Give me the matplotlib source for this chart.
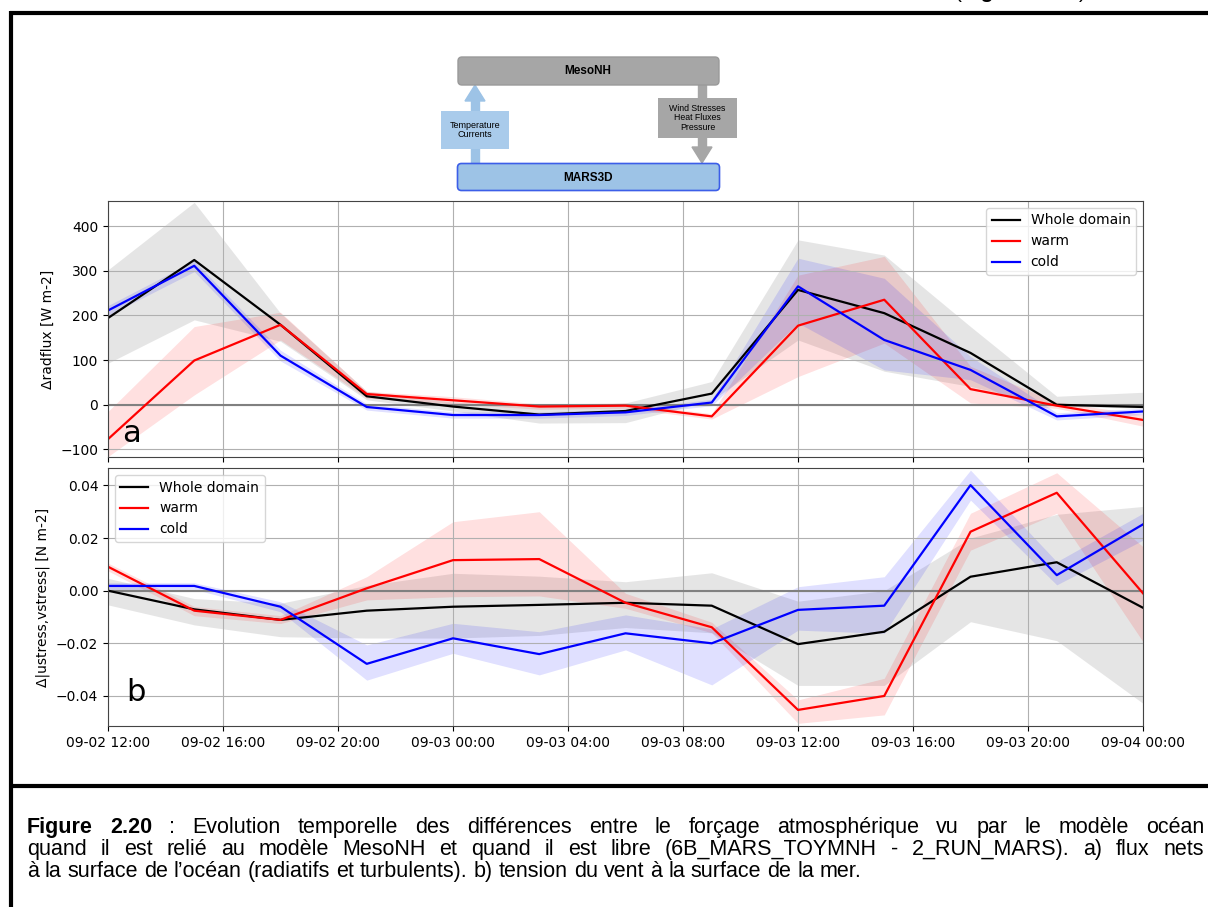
import pandas as pd
import matplotlib
matplotlib.use('Agg')
import matplotlib.pyplot as plt
import matplotlib.dates as mdates
from matplotlib.patches import FancyBboxPatch, Rectangle, Polygon

# Time steps (3-hourly)
times = pd.date_range('2019-09-02 12:00', periods=13, freq='3h')

# Panel a: delta radflux [W m-2]
rad_whole = [194, 324, 179, 19, -4, -22, -14, 25, 257, 205, 116, 0, -5]
rad_warm = [-77, 99, 179, 24, 10, -4, -2, -26, 177, 235, 35, -2, -34]
rad_cold = [211, 311, 110, -5, -23, -23, -17, 5, 265, 145, 78, -26, -15]
rad_whole_lo = [93, 190, 142, 11, -14, -41, -40, 10, 145, 75, 41, -3, -8]
rad_whole_hi = [302, 453, 205, 30, 6, -4, 4, 52, 369, 335, 175, 19, 28]
rad_warm_lo = [-116, 22, 145, 15, 2, -10, -8, -32, 63, 138, 4, -8, -48]
rad_warm_hi = [-15, 175, 207, 30, 18, 2, 4, -20, 290, 332, 86, 6, -22]
rad_cold_lo = [200, 298, 98, -12, -30, -30, -24, -2, 183, 78, 56, -34, -22]
rad_cold_hi = [222, 322, 122, 2, -16, -16, -10, 12, 328, 283, 108, -18, -8]

# Panel b: delta |ustress,vstress| [N m-2]
st_whole = [0.0000, -0.0071, -0.0111, -0.0076, -0.0061, -0.0054, -0.0046, -0.0057, -0.0203, -0.0156, 0.0053, 0.0108, -0.0065]
st_warm = [0.0091, -0.0076, -0.0111, 0.0009, 0.0116, 0.0120, -0.0046, -0.0139, -0.0453, -0.0400, 0.0224, 0.0372, -0.0010]
st_cold = [0.0018, 0.0018, -0.0061, -0.0278, -0.0181, -0.0241, -0.0162, -0.0200, -0.0073, -0.0057, 0.0401, 0.0059, 0.0252]
st_whole_lo = [-0.0054, -0.0130, -0.0175, -0.0180, -0.0180, -0.0170, -0.0140, -0.0160, -0.0360, -0.0360, -0.0118, -0.0190, -0.0428]
st_whole_hi = [0.0047, -0.0030, -0.0048, 0.0020, 0.0066, 0.0055, 0.0034, 0.0068, -0.0040, 0.0000, 0.0200, 0.0290, 0.0320]
st_warm_lo = [0.0075, -0.0095, -0.0125, -0.0035, -0.0023, -0.0020, -0.0067, -0.0160, -0.0504, -0.0472, 0.0154, 0.0294, -0.0194]
st_warm_hi = [0.0105, -0.0060, -0.0095, 0.0053, 0.0262, 0.0300, -0.0010, -0.0120, -0.0415, -0.0333, 0.0294, 0.0448, 0.0167]
st_cold_lo = [0.0005, 0.0005, -0.0080, -0.0340, -0.0238, -0.0320, -0.0225, -0.0358, -0.0150, -0.0162, 0.0344, 0.0022, 0.0192]
st_cold_hi = [0.0030, 0.0030, -0.0042, -0.0206, -0.0124, -0.0156, -0.0092, -0.0145, 0.0015, 0.0053, 0.0458, 0.0110, 0.0294]

caption_lines = [
    "Figure 2.20 : Evolution temporelle des différences entre le forçage atmosphérique vu par le modèle océan",
    "quand il est relié au modèle MesoNH et quand il est libre (6B_MARS_TOYMNH - 2_RUN_MARS). a) flux nets",
    "à la surface de l’océan (radiatifs et turbulents). b) tension du vent à la surface de la mer.",
]

fig = plt.figure(figsize=(12.08, 9.07), dpi=100)

# background layer in pixel coordinates for page decoration
bg = fig.add_axes([0, 0, 1, 1], zorder=0)
bg.set_xlim(0, 1208)
bg.set_ylim(907, 0)
bg.axis('off')

# frame of the figure on the page
bg.plot([9.5, 1210], [12.5, 12.5], color='black', lw=3, solid_capstyle='butt')
bg.plot([10.5, 10.5], [11, 907], color='black', lw=3, solid_capstyle='butt')
bg.plot([9, 1210], [786, 786], color='black', lw=3, solid_capstyle='butt')

# cut-off line of text above the frame (only descenders visible)
bg.text(955, -1.5, '(', fontsize=15, family='Liberation Sans', va='baseline')
bg.text(962, -1.5, 'Figure 2.20', fontsize=15, family='Liberation Sans', weight='bold', va='baseline')
bg.text(1079, -1.5, ')', fontsize=15, family='Liberation Sans', va='baseline')

# coupling diagram
blue_light = '#a9cbeb'
grey_box = '#a6a6a6'
bg.add_patch(Rectangle((471, 100), 8, 64, color='#9dc3e6', zorder=1))
bg.add_patch(Polygon([[465, 101], [485, 101], [475, 85]], closed=True, color='#9dc3e6', zorder=1))
bg.add_patch(Rectangle((698, 84), 8, 64, color=grey_box, zorder=1))
bg.add_patch(Polygon([[692, 147], [712, 147], [702, 163]], closed=True, color=grey_box, zorder=1))
bg.add_patch(FancyBboxPatch((460, 59), 257, 24, boxstyle='round,pad=2,rounding_size=4',
                            facecolor=grey_box, edgecolor='#9a9a9a', lw=1, zorder=2))
bg.text(588, 71.5, 'MesoNH', fontsize=8.5, weight='bold', family='Liberation Sans',
        ha='center', va='center', zorder=3)
bg.add_patch(FancyBboxPatch((459, 165), 259, 24, boxstyle='round,pad=1.5,rounding_size=4',
                            facecolor='#9dc3e6', edgecolor='#3c5ee8', lw=1.2, zorder=2))
bg.text(588, 178, 'MARS3D', fontsize=8.5, weight='bold', family='Liberation Sans',
        ha='center', va='center', zorder=3)
bg.add_patch(Rectangle((441, 111), 68, 38, facecolor=blue_light, edgecolor='none', zorder=2))
bg.text(475, 130, 'Temperature\nCurrents', fontsize=6.5, family='Liberation Sans',
        ha='center', va='center', linespacing=1.1, zorder=3)
bg.add_patch(Rectangle((658, 98), 79, 40, facecolor=grey_box, edgecolor='none', zorder=2))
bg.text(697.5, 118, 'Wind Stresses\nHeat Fluxes\nPressure', fontsize=6.3, family='Liberation Sans',
        ha='center', va='center', linespacing=1.1, zorder=3)

# caption, first two lines justified
renderer = fig.canvas.get_renderer()
cap_size = 15.5
cap_x0, cap_x1 = 27, 1204
cap_y = [833, 855, 877]
space_w = cap_size * 100 / 72 * 0.278
for i, line in enumerate(caption_lines):
    words = line.split(' ')
    objs = []
    for j, w in enumerate(words):
        bold = (i == 0 and j < 2)
        t = bg.text(0, cap_y[i], w, fontsize=cap_size, family='Liberation Sans',
                    weight='bold' if bold else 'normal', va='baseline')
        objs.append(t)
    widths = [t.get_window_extent(renderer).width for t in objs]
    gap = space_w
    if i < 2:
        gap = max(space_w * 0.8, (cap_x1 - cap_x0 - sum(widths)) / (len(words) - 1))
    x = cap_x0
    for t, w in zip(objs, widths):
        t.set_x(x)
        x += w + gap

# data panels
ax1 = fig.add_axes([0.0894, 0.4961, 0.8568, 0.2823], zorder=2)
ax2 = fig.add_axes([0.0894, 0.1996, 0.8568, 0.2844], zorder=2, sharex=ax1)

ax1.fill_between(times, rad_whole_lo, rad_whole_hi, color='grey', alpha=0.2, lw=0)
ax1.fill_between(times, rad_warm_lo, rad_warm_hi, color='red', alpha=0.12, lw=0)
ax1.fill_between(times, rad_cold_lo, rad_cold_hi, color='blue', alpha=0.12, lw=0)
ax1.axhline(0, color='grey', lw=1.5)
ax1.plot(times, rad_whole, color='black', lw=1.6, label='Whole domain')
ax1.plot(times, rad_warm, color='red', lw=1.6, label='warm')
ax1.plot(times, rad_cold, color='blue', lw=1.6, label='cold')
ax1.set_ylim(-117, 456)
ax1.set_ylabel('Δradflux [W m-2]', fontsize=10)
ax1.legend(loc='upper right', fontsize=10)
ax1.text(0.014, 0.059, 'a', transform=ax1.transAxes, fontsize=22)

ax2.fill_between(times, st_whole_lo, st_whole_hi, color='grey', alpha=0.2, lw=0)
ax2.fill_between(times, st_warm_lo, st_warm_hi, color='red', alpha=0.12, lw=0)
ax2.fill_between(times, st_cold_lo, st_cold_hi, color='blue', alpha=0.12, lw=0)
ax2.axhline(0, color='grey', lw=1.5)
ax2.plot(times, st_whole, color='black', lw=1.6, label='Whole domain')
ax2.plot(times, st_warm, color='red', lw=1.6, label='warm')
ax2.plot(times, st_cold, color='blue', lw=1.6, label='cold')
ax2.set_ylim(-0.0514, 0.0466)
ax2.set_yticks([-0.04, -0.02, 0.0, 0.02, 0.04])
ax2.yaxis.set_major_formatter(matplotlib.ticker.FuncFormatter(lambda v, p: f'{v:.2f}'.replace('-', '\u2212')))
ax2.set_ylabel('Δ|ustress,vstress| [N m-2]', fontsize=10)
ax2.legend(loc='upper left', fontsize=10)
ax2.text(0.018, 0.097, 'b', transform=ax2.transAxes, fontsize=22)

ax2.set_xlim(times[0], times[-1])
ax2.xaxis.set_major_locator(mdates.HourLocator(byhour=[0, 4, 8, 12, 16, 20]))
ax2.xaxis.set_major_formatter(mdates.DateFormatter('%m-%d %H:%M'))
plt.setp(ax1.get_xticklabels(), visible=False)

for ax in (ax1, ax2):
    ax.grid(True, color='#b0b0b0', lw=0.8)
    ax.tick_params(labelsize=10)
    for s in ax.spines.values():
        s.set_color('#444444')

fig.savefig('out.png', dpi=100)
